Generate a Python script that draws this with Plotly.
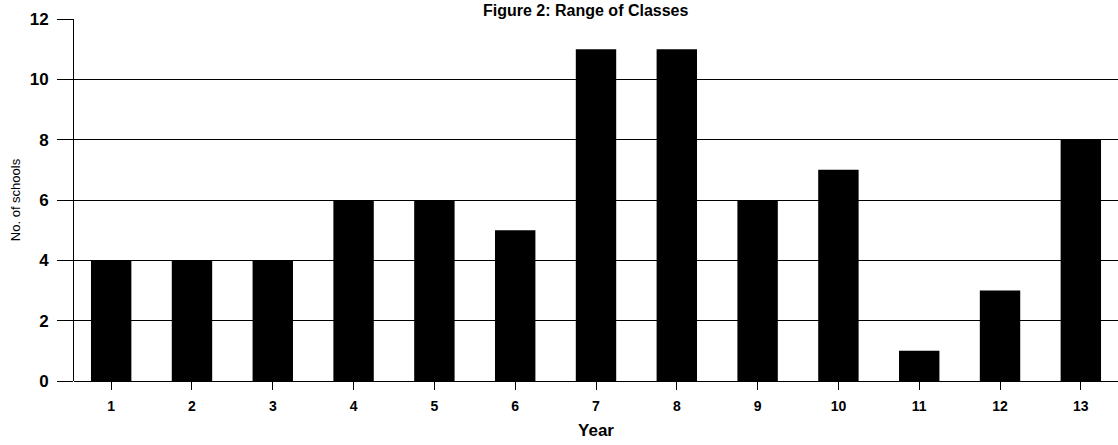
import plotly.graph_objects as go

# Number of schools by year level
years = ["1", "2", "3", "4", "5", "6", "7", "8", "9", "10", "11", "12", "13"]
schools = [4, 4, 4, 6, 6, 5, 11, 11, 6, 7, 1, 3, 8]
y_ticks = [0, 2, 4, 6, 8, 10, 12]

FONT = "Liberation Sans, Arial, sans-serif"

fig = go.Figure(
    go.Bar(
        x=years,
        y=schools,
        marker=dict(color="black", line=dict(width=0)),
        width=0.5,
    )
)

fig.update_layout(
    width=1118,
    height=445,
    margin=dict(l=74, r=0, t=19, b=64),
    paper_bgcolor="white",
    plot_bgcolor="white",
    showlegend=False,
    font=dict(family=FONT, color="black"),
    annotations=[
        dict(
            text="<b>Figure 2: Range of Classes</b>",
            xref="paper", yref="paper",
            x=0.49, y=1, xanchor="center", yanchor="bottom",
            yshift=-1, showarrow=False, borderpad=0,
            font=dict(size=16, family=FONT, color="black"),
        )
    ],
)

fig.update_xaxes(
    type="category",
    range=[-0.46, 12.46],
    ticks="outside",
    ticklen=8,
    tickwidth=1,
    tickcolor="black",
    ticklabelstandoff=4,
    showline=False,
    showgrid=False,
    tickfont=dict(size=14, family=FONT, color="black", weight="bold"),
    title=dict(text="<b>Year</b>", font=dict(size=17, family=FONT, color="black"), standoff=11),
)

fig.update_yaxes(
    range=[0, 12],
    tickvals=y_ticks,
    ticks="outside",
    ticklen=16,
    tickwidth=1,
    tickcolor="black",
    ticklabelstandoff=5,
    showline=True,
    linecolor="black",
    linewidth=1,
    showgrid=True,
    gridcolor="black",
    gridwidth=1,
    zeroline=True,
    zerolinecolor="black",
    zerolinewidth=1,
    tickfont=dict(size=17, family=FONT, color="black", weight="bold"),
    title=dict(text="No. of schools", font=dict(size=13, family=FONT, color="black"), standoff=6),
)

fig.write_html("out.html")
